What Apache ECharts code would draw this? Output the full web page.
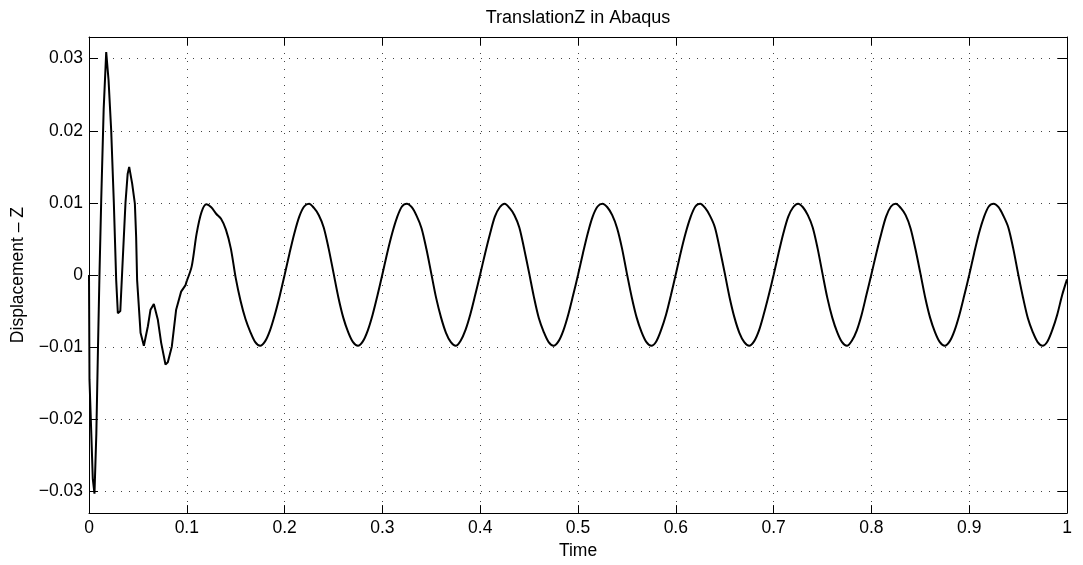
<!DOCTYPE html>
<html>
<head>
<meta charset="utf-8">
<title>TranslationZ in Abaqus</title>
<script src="https://cdn.jsdelivr.net/npm/echarts@6/dist/echarts.min.js"></script>
<style>
  html, body { margin: 0; padding: 0; background: #fff; }
  #chart { width: 1083px; height: 565px; }
</style>
</head>
<body>
<div id="chart"></div>
<script>
// Start-up transient: irregular time stamps (s) and Z displacement
const transientTime = [
  0, 0.0005, 0.0039, 0.0056, 0.0075, 0.0092, 0.0107, 0.0125, 0.0150, 0.0176,
  0.0200, 0.0227, 0.0254, 0.0278, 0.0295, 0.0320, 0.0340, 0.0373, 0.0395, 0.0411,
  0.0441, 0.0469, 0.0482, 0.0492, 0.0527, 0.0561, 0.0602, 0.0629, 0.0663, 0.0704,
  0.0738, 0.0782, 0.0806, 0.0847, 0.0891, 0.0942, 0.0987, 0.1000
];
const transientDisp = [
  0, -0.0145, -0.0283, -0.0303, -0.0220, -0.0100, 0.0000, 0.0104, 0.0230, 0.0309,
  0.0270, 0.0200, 0.0100, -0.0007, -0.0053, -0.0050, 0.0007, 0.0100, 0.0140, 0.0150,
  0.0127, 0.0099, 0.0053, -0.0007, -0.0080, -0.0098, -0.0071, -0.0048, -0.0040, -0.0062,
  -0.0094, -0.0124, -0.0121, -0.0099, -0.0048, -0.0023, -0.0014, -0.0008
];

// Steady oscillation, sampled every 0.005 s from t = 0.1 to t = 1.0
const steadyStart = 0.1;
const steadyStep = 0.005;
const steadyDisp = [
  -0.0008, 0.0012, 0.0057, 0.0087, 0.0098, 0.0094, 0.0085, 0.0078, 0.0063, 0.0037,
  -0.0004, -0.0036, -0.0061, -0.0079, -0.0093, -0.0098, -0.0092, -0.0077, -0.0055, -0.0029,
  0.0000, 0.0030, 0.0058, 0.0081, 0.0095, 0.0099, 0.0093, 0.0083, 0.0066, 0.0037,
  0.0003, -0.0031, -0.0059, -0.0079, -0.0093, -0.0098, -0.0092, -0.0077, -0.0055, -0.0028,
  0.0001, 0.0031, 0.0058, 0.0080, 0.0095, 0.0099, 0.0094, 0.0082, 0.0065, 0.0036,
  0.0002, -0.0032, -0.0059, -0.0080, -0.0093, -0.0098, -0.0091, -0.0076, -0.0054, -0.0027,
  0.0001, 0.0030, 0.0057, 0.0081, 0.0094, 0.0099, 0.0093, 0.0083, 0.0066, 0.0036,
  0.0003, -0.0031, -0.0060, -0.0079, -0.0093, -0.0098, -0.0092, -0.0077, -0.0055, -0.0028,
  0.0000, 0.0030, 0.0058, 0.0081, 0.0095, 0.0099, 0.0094, 0.0083, 0.0065, 0.0037,
  0.0002, -0.0031, -0.0059, -0.0079, -0.0093, -0.0098, -0.0092, -0.0076, -0.0055, -0.0028,
  0.0001, 0.0031, 0.0058, 0.0080, 0.0095, 0.0099, 0.0093, 0.0082, 0.0066, 0.0036,
  0.0003, -0.0031, -0.0059, -0.0080, -0.0093, -0.0098, -0.0092, -0.0077, -0.0054, -0.0028,
  0.0000, 0.0030, 0.0058, 0.0081, 0.0094, 0.0099, 0.0094, 0.0083, 0.0066, 0.0037,
  0.0002, -0.0032, -0.0059, -0.0079, -0.0093, -0.0098, -0.0091, -0.0077, -0.0055, -0.0027,
  0.0001, 0.0030, 0.0057, 0.0081, 0.0095, 0.0099, 0.0093, 0.0083, 0.0065, 0.0036,
  0.0003, -0.0031, -0.0059, -0.0079, -0.0093, -0.0098, -0.0092, -0.0077, -0.0055, -0.0028,
  0.0000, 0.0030, 0.0058, 0.0080, 0.0095, 0.0099, 0.0094, 0.0082, 0.0066, 0.0037,
  0.0002, -0.0031, -0.0060, -0.0079, -0.0093, -0.0098, -0.0092, -0.0076, -0.0055, -0.0028,
  -0.0006
];

// Axis ticks
const xTicks = [0, 0.1, 0.2, 0.3, 0.4, 0.5, 0.6, 0.7, 0.8, 0.9, 1];
const yTicks = [-0.03, -0.02, -0.01, 0, 0.01, 0.02, 0.03];

const transientData = transientTime.map((t, i) => [t, transientDisp[i]]);
const steadyData = steadyDisp.map((v, i) => [+(steadyStart + i * steadyStep).toFixed(4), v]);

const FONT = 'Liberation Sans, Arial, Helvetica, sans-serif';
const FS = 17.5;
const gridDots = { show: true, lineStyle: { color: '#444', width: 1, type: [1, 7] } };

const fmtX = v => String(Math.round(v * 10) / 10);
const fmtY = v => {
  const r = Math.round(v * 100) / 100;
  if (r === 0) return '0';
  return (r < 0 ? '\u2212' : '') + Math.abs(r).toFixed(2);
};

const chart = echarts.init(document.getElementById('chart'), null, { renderer: 'canvas' });

const baseX = {
  type: 'value', min: 0, max: 1, interval: 0.1,
  axisLine: { show: true, onZero: false, lineStyle: { color: '#000', width: 1 } },
  axisTick: { show: true, inside: true, length: 8, lineStyle: { color: '#000' } }
};
const baseY = {
  type: 'value', min: -0.033, max: 0.033,
  axisLine: { show: true, onZero: false, lineStyle: { color: '#000', width: 1 } },
  axisTick: { show: true, inside: true, length: 9, customValues: yTicks, lineStyle: { color: '#000' } }
};

chart.setOption({
  animation: false,
  backgroundColor: '#fff',
  textStyle: { fontFamily: FONT },
  grid: { left: 89, right: 16, top: 37, bottom: 51, containLabel: false },
  graphic: [{
    type: 'text', x: 578, y: 27,
    style: { text: 'TranslationZ in Abaqus', fill: '#000', font: '18px ' + FONT, align: 'center', verticalAlign: 'bottom' }
  }],
  xAxis: [
    Object.assign({}, baseX, {
      position: 'bottom',
      name: 'Time', nameLocation: 'middle', nameGap: 26,
      nameTextStyle: { color: '#000', fontSize: FS, fontFamily: FONT },
      axisLabel: { show: true, color: '#000', fontSize: FS, fontFamily: FONT, margin: 6, formatter: fmtX },
      splitLine: gridDots
    }),
    Object.assign({}, baseX, {
      position: 'top',
      axisLabel: { show: false }, splitLine: { show: false }
    })
  ],
  yAxis: [
    Object.assign({}, baseY, {
      position: 'left',
      name: 'Displacement \u2013 Z', nameLocation: 'middle', nameGap: 62, nameRotate: 90,
      nameTextStyle: { color: '#000', fontSize: FS, fontFamily: FONT },
      axisLabel: { show: true, color: '#000', fontSize: FS, fontFamily: FONT, margin: 6, customValues: yTicks, formatter: fmtY },
      splitLine: gridDots
    }),
    Object.assign({}, baseY, {
      position: 'right',
      axisLabel: { show: false }, splitLine: { show: false }
    })
  ],
  series: [
    {
      type: 'line', data: transientData, xAxisIndex: 0, yAxisIndex: 0,
      showSymbol: false, smooth: false,
      lineStyle: { color: '#000', width: 2 }
    },
    {
      type: 'line', data: steadyData, xAxisIndex: 0, yAxisIndex: 0,
      showSymbol: false, smooth: 0.3,
      lineStyle: { color: '#000', width: 2 }
    }
  ]
});
</script>
</body>
</html>
